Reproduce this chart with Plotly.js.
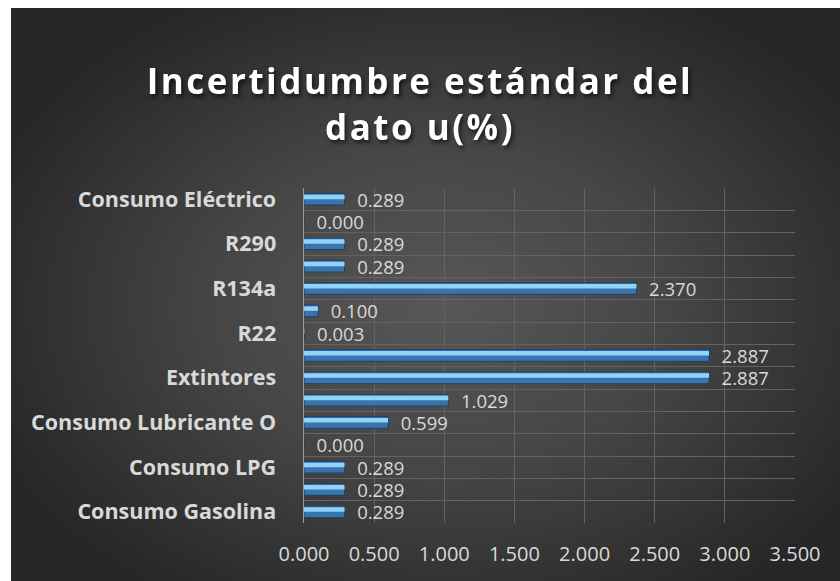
<!DOCTYPE html>
<html>
<head>
<meta charset="utf-8">
<script src="https://cdn.plot.ly/plotly-3.0.1.min.js"></script>
<style>
  html, body { margin: 0; padding: 0; background: #ffffff; }
  #wrap { position: absolute; left: 11px; top: 8px; width: 829px; height: 573px;
          background: radial-gradient(ellipse 60% 62% at 52% 52%, #575757 0%, #464646 45%, #2b2b2b 90%, #262626 100%); }
  #chart { position: absolute; left: -11px; top: -8px; width: 840px; height: 581px; }
  .gtitle { letter-spacing: 2.5px; filter: drop-shadow(2px 3px 2px rgba(0,0,0,0.6)); }
</style>
</head>
<body>
<div id="wrap"><div id="chart"></div></div>
<script>
// Categories from bottom to top (unlabelled ones are hidden in the original axis)
const categories = [
  "Consumo Gasolina", "Consumo Diésel", "Consumo LPG", "Consumo GNV",
  "Consumo Lubricante O", "Consumo Lubricante H", "Extintores", "Extintores CO2",
  "R22", "R410a", "R134a", "R404a", "R290", "R600a", "Consumo Eléctrico"
];
const values = [0.289, 0.289, 0.289, 0.000, 0.599, 1.029, 2.887, 2.887,
                0.003, 0.100, 2.370, 0.289, 0.289, 0.000, 0.289];
const shownLabels = ["Consumo Gasolina", "Consumo LPG", "Consumo Lubricante O",
                     "Extintores", "R22", "R134a", "R290", "Consumo Eléctrico"];
const xTickVals = [0, 0.5, 1, 1.5, 2, 2.5, 3, 3.5];

const labelFont = { family: "Open Sans, sans-serif", size: 20, color: "#d9d9d9" };
const valueFont = { family: "Open Sans, sans-serif", size: 18.5, color: "#d9d9d9" };

const base = {
  type: "bar", orientation: "h", x: values, y: categories,
  width: 0.52, offset: -0.26,
  marker: { color: "#3a74ad", line: { color: "#1c4266", width: 1 } },
  texttemplate: "\u00a0\u00a0%{x:.3f}", textposition: "outside",
  constraintext: "none", textfont: valueFont, cliponaxis: false, hoverinfo: "x+y"
};
const shine = {
  type: "bar", orientation: "h", x: values, y: categories,
  width: 0.2, offset: 0.0,
  marker: { color: "#93d2f6", line: { width: 0 } },
  textposition: "none", hoverinfo: "skip"
};

const layout = {
  width: 840, height: 581,
  paper_bgcolor: "rgba(0,0,0,0)", plot_bgcolor: "rgba(0,0,0,0)",
  margin: { l: 304, r: 45, t: 188, b: 58 },
  barmode: "overlay", showlegend: false,
  title: {
    text: "Incertidumbre estándar del<br>dato u(%)",
    font: { family: "Open Sans, sans-serif", size: 35, color: "#ffffff", weight: "bold" },
    x: 0.5, xanchor: "center", y: 0.838, yanchor: "top"
  },
  xaxis: {
    range: [0, 3.5], tickvals: xTickVals, ticktext: xTickVals.map(v => v.toFixed(3)),
    showgrid: true, gridcolor: "#636363", gridwidth: 1,
    zeroline: false, showline: false, ticks: "",
    tickfont: labelFont, ticklabelstandoff: 17, fixedrange: true
  },
  yaxis: {
    type: "category", categoryorder: "array", categoryarray: categories,
    range: [-0.5, categories.length - 0.5],
    tickmode: "array", tickvals: categories,
    ticktext: categories.map(c => shownLabels.includes(c) ? "<b>" + c + "</b>" : ""),
    tickson: "boundaries", ticks: "", showgrid: true, gridcolor: "#636363", gridwidth: 1,
    showline: true, linecolor: "#9a9a9a", linewidth: 1.5, mirror: false,
    zeroline: false, tickfont: Object.assign({}, labelFont, { size: 21.5 }),
    ticklabelstandoff: 22, fixedrange: true
  }
};

Plotly.newPlot("chart", [base, shine], layout, { displayModeBar: false, staticPlot: true });
</script>
</body>
</html>
